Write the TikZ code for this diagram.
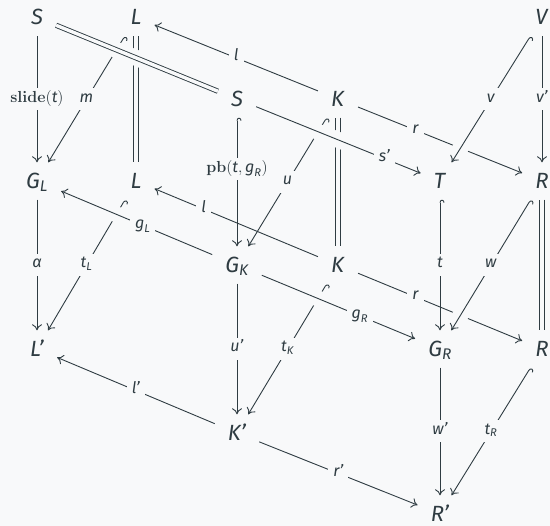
\documentclass[tikz,border=0pt]{standalone}
\usepackage{fix-cm}
\usepackage{amsmath}
\usepackage[no-math]{fontspec}
\setmainfont{Fira Sans}
\usetikzlibrary{arrows.meta}
\definecolor{ink}{RGB}{47,60,66}
\definecolor{bg}{RGB}{248,249,250}
\newcommand{\mi}[1]{\textit{#1}}
\newcommand{\pr}{{\char"0027}}
\tikzset{
  ob/.style={font=\fontsize{22}{26}\selectfont, text=ink, inner xsep=13pt, inner ysep=11pt, text height=15pt, text depth=0pt},
  lab/.style={font=\fontsize{16}{19}\selectfont, text=ink, fill=bg, inner xsep=5pt, inner ysep=5pt, text height=9pt, text depth=3pt},
  ar/.style={draw=ink, line width=0.9pt, -{Computer Modern Rightarrow[length=6pt,width=10pt]}},
  hk/.style={draw=ink, line width=0.9pt, {Hooks[harpoon,swap,length=3pt,width=9pt]}-{Computer Modern Rightarrow[length=6pt,width=10pt]}},
  eq/.style={draw=ink, line width=0.9pt, double=bg, double distance=3.4pt},
  halo/.style={draw=bg, line width=16pt}
}
\begin{document}
\begin{tikzpicture}[x=1pt,y=-1pt]
\fill[bg] (0,0) rectangle (550,526);
\useasboundingbox (0,0) rectangle (550,526);
\node[ob] (S1) at (37,17.5) {\mi{S}};
\node[ob] (L1) at (136,17.5) {\mi{L}};
\node[ob] (V) at (542,17.5) {\mi{V}};
\node[ob] (S2) at (237,99) {\mi{S}};
\node[ob] (K2) at (338,99) {\mi{K}};
\node[ob] (GL) at (37,181) {$\mi{G}_{\mi{L}}$};
\node[ob] (L3) at (136,181) {\mi{L}};
\node[ob] (T) at (440,181) {\mi{T}};
\node[ob] (R3) at (542,181) {\mi{R}};
\node[ob] (GK) at (237,265) {$\mi{G}_{\mi{K}}$};
\node[ob] (K4) at (338,265) {\mi{K}};
\node[ob] (Lp) at (37,349) {\mi{L\pr}};
\node[ob] (GR) at (440,349) {$\mi{G}_{\mi{R}}$};
\node[ob] (R5) at (542,349) {\mi{R}};
\node[ob] (Kp) at (237,433) {\mi{K\pr}};
\node[ob] (Rp) at (440,514) {\mi{R\pr}};
% plain arrows
\draw[ar] (S1) -- node[lab]{$\mathbf{slide}(\mi{t})$} (GL);
\draw[hk] (L1) -- node[lab]{\mi{m}} (GL);
\draw[eq] (L1) -- (L3);
\draw[ar] (K2) -- node[lab]{\mi{l}} (L1);
\draw[hk] (S2) -- node[lab,pos=0.4]{$\mathbf{pb}(\mi{t},\mi{g}_{\mi{R}})$} (GK);
\draw[ar] (K2) -- node[lab,pos=0.35]{\mi{r}} (R3);
\draw[ar] (V) -- node[lab]{\mi{v\pr}} (R3);
\draw[hk] (K2) -- node[lab]{\mi{u}} (GK);
\draw[eq] (K2) -- (K4);
\draw[ar] (GL) -- node[lab]{\mi{α}} (Lp);
\draw[hk] (L3) -- node[lab]{$\mi{t}_{\mi{L}}$} (Lp);
\draw[ar] (K4) -- node[lab,pos=0.7]{\mi{l}} (L3);
\draw[hk] (T) -- node[lab]{\mi{t}} (GR);
\draw[ar] (K4) -- node[lab,pos=0.35]{\mi{r}} (R5);
\draw[eq] (R3) -- (R5);
\draw[ar] (GK) -- node[lab]{\mi{u\pr}} (Kp);
\draw[hk] (K4) -- node[lab]{$\mi{t}_{\mi{K}}$} (Kp);
\draw[ar] (Kp) -- node[lab]{\mi{l\pr}} (Lp);
\draw[ar] (Kp) -- node[lab]{\mi{r\pr}} (Rp);
\draw[ar] (GR) -- node[lab]{\mi{w\pr}} (Rp);
\draw[hk] (R5) -- node[lab]{$\mi{t}_{\mi{R}}$} (Rp);
% crossing-over arrows
\draw[halo] (S1) -- (S2);
\draw[eq] (S1) -- (S2);
\draw[halo] (S2) -- (T);
\draw[ar] (S2) -- node[lab,pos=0.78]{\mi{s\pr}} (T);
\draw[halo] (V) -- (T);
\draw[hk] (V) -- node[lab]{\mi{v}} (T);
\draw[halo] (GK) -- (GL);
\draw[ar] (GK) -- node[lab,pos=0.46]{$\mi{g}_{\mi{L}}$} (GL);
\draw[halo] (GK) -- (GR);
\draw[ar] (GK) -- node[lab,pos=0.64]{$\mi{g}_{\mi{R}}$} (GR);
\draw[halo] (R3) -- (GR);
\draw[hk] (R3) -- node[lab]{\mi{w}} (GR);
\end{tikzpicture}
\end{document}
